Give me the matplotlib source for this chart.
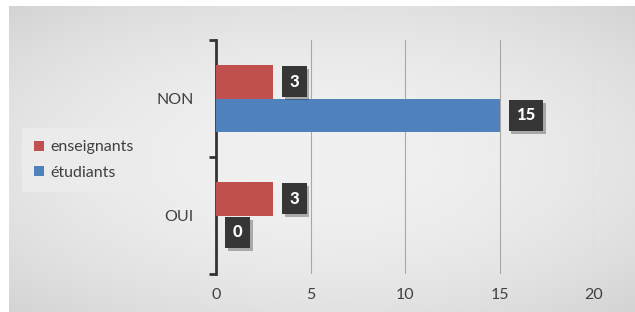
import numpy as np
import matplotlib
matplotlib.use('Agg')
import matplotlib.pyplot as plt
import matplotlib.patheffects as pe

# Data
categories = ['OUI', 'NON']
enseignants = [3, 3]
etudiants = [0, 15]
series_names = ['enseignants', 'étudiants']
colors = ['#C0504D', '#4F81BD']

plt.rcParams['font.family'] = ['Lato', 'DejaVu Sans']

fig = plt.figure(figsize=(6.35, 3.12), dpi=100)
fig.patch.set_facecolor('white')

# gradient background of the chart area (light centre, grey edges)
bg = fig.add_axes([9 / 635, 0, 626 / 635, 306 / 312], zorder=-10)
yy, xx = np.mgrid[-1:1:200j, -1:1:400j]
r2 = (xx * 0.85) ** 2 + (yy * 0.9) ** 2
g = np.clip(0.945 - 0.075 * r2, 0, 1)
bg.imshow(np.dstack([g, g, g]), aspect='auto', extent=[0, 1, 0, 1])
bg.set_axis_off()

ax = fig.add_axes([216 / 635, 38 / 312, 378 / 635, 234 / 312])
ax.patch.set_alpha(0)

y = np.arange(len(categories))
h = 0.29
b1 = ax.barh(y + h / 2, enseignants, height=h, color=colors[0], label=series_names[0], zorder=3)
b2 = ax.barh(y - h / 2, etudiants, height=h, color=colors[1], label=series_names[1], zorder=3)

ax.set_xlim(0, 20)
ax.set_ylim(-0.5, 1.5)
ax.set_xticks([0, 5, 10, 15, 20])
ax.set_yticks(y)
ax.set_yticklabels(categories)
ax.tick_params(axis='y', length=0, pad=16, labelsize=11.5, labelcolor='#404040')
ax.tick_params(axis='x', length=0, pad=10, labelsize=11.5, labelcolor='#404040')

ax.grid(axis='x', color='#a8a8a8', linewidth=0.8, zorder=0)
for s in ['top', 'right', 'bottom']:
    ax.spines[s].set_visible(False)
ax.spines['left'].set_color('#333333')
ax.spines['left'].set_linewidth(2)

# boundary ticks on the category axis
ax.set_yticks([-0.5, 0.5, 1.5], minor=True)
ax.tick_params(axis='y', which='minor', length=5, width=2, color='#333333', direction='out')

# data labels
for bars in (b1, b2):
    for bar in bars:
        v = bar.get_width()
        yc = bar.get_y() + bar.get_height() / 2
        t = ax.annotate(str(int(v)), xy=(v, yc), xytext=(12, 0), textcoords='offset points',
                        ha='left', va='center', color='white', fontsize=12, fontweight='black',
                        zorder=5,
                        bbox=dict(boxstyle='square,pad=0.45', facecolor='#363636', edgecolor='none'))
        t.get_bbox_patch().set_path_effects([pe.SimplePatchShadow(offset=(2, -2), alpha=0.3),
                                             pe.Normal()])

leg = fig.legend(handles=[b1, b2], loc='center left', bbox_to_anchor=(27 / 635, 1 - 160 / 312),
                 frameon=True, fontsize=11.5, handlelength=0.6, handleheight=0.6,
                 handletextpad=0.4, labelspacing=0.7, borderpad=0.45, borderaxespad=0,
                 labelcolor='#404040')
leg.get_frame().set_facecolor('#ebebeb')
leg.get_frame().set_edgecolor('none')
leg.get_frame().set_alpha(1)
leg.get_frame().set_boxstyle('square')

fig.savefig('out.png', dpi=100)
